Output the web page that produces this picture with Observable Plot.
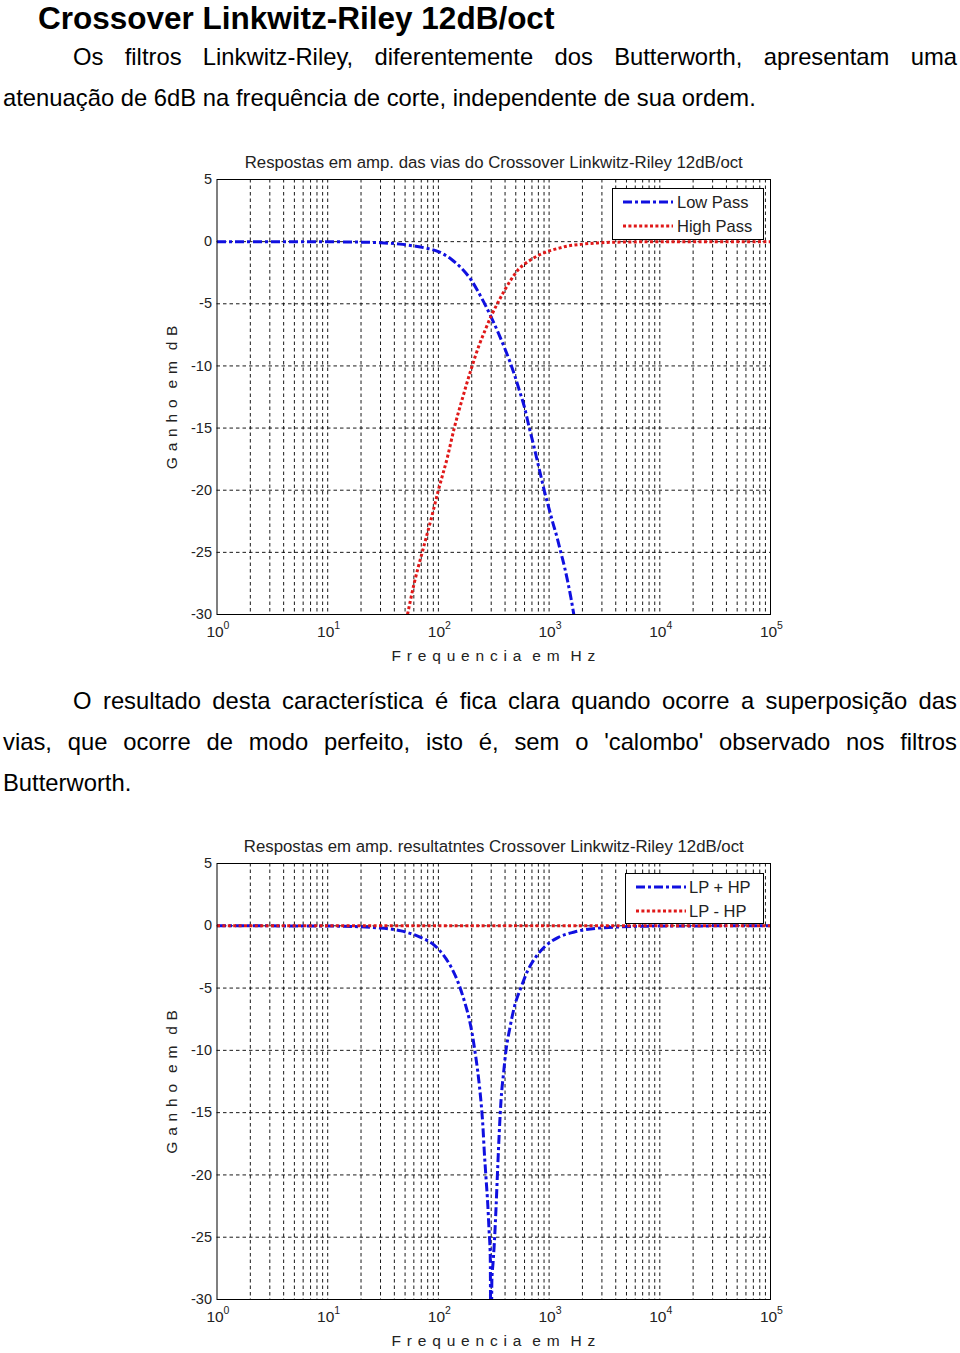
<!DOCTYPE html>
<html><head><meta charset="utf-8">
<script src="https://cdn.jsdelivr.net/npm/d3@7"></script>
<script src="https://cdn.jsdelivr.net/npm/@observablehq/plot@0.6"></script>
<style>
body{margin:0;width:960px;height:1353px;position:relative;background:#fff;font-family:"Liberation Sans",Arial,sans-serif;color:#000;overflow:hidden}
h1{position:absolute;left:38px;top:4px;margin:0;font-size:31.5px;line-height:28px;font-weight:bold;white-space:nowrap}
.ln{position:absolute;font-size:23.8px;line-height:28px;white-space:nowrap}
.just{text-align:justify;text-align-last:justify;white-space:normal}
.chart{position:absolute;left:0}
.legend{position:absolute;border:1px solid #000;background:#fff;font-size:16.5px;font-family:"Liberation Sans",Arial,sans-serif;color:#222}
.legend .it{position:absolute;white-space:nowrap}
</style></head><body>
<h1>Crossover Linkwitz-Riley 12dB/oct</h1>
<div class="ln just" style="left:73px;width:884px;top:43px">Os filtros Linkwitz-Riley, diferentemente dos Butterworth, apresentam uma</div>
<div class="ln" style="left:3px;top:84px">atenuação de 6dB na frequência de corte, independente de sua ordem.</div>
<div class="chart" id="c1" style="top:145px"></div>
<div class="ln just" style="left:73px;width:884px;top:687px">O resultado desta característica é fica clara quando ocorre a superposição das</div>
<div class="ln just" style="left:3px;width:954px;top:728px">vias, que ocorre de modo perfeito, isto é, sem o 'calombo' observado nos filtros</div>
<div class="ln" style="left:3px;top:769px">Butterworth.</div>
<div class="chart" id="c2" style="top:830px"></div>
<script>
// ---- data ----
const xTicks = [1, 10, 100, 1000, 10000, 100000];
const yTicks = [5, 0, -5, -10, -15, -20, -25, -30];
const decades = [1, 10, 100, 1000, 10000];
const minorMultipliers = [1, 2, 3, 4, 5, 6, 7, 8, 9];

// Chart 1: Low Pass
const lpFreq = [1, 5, 10, 20, 30, 45, 60, 80, 100, 130, 160, 200, 226, 260, 299, 350, 394, 440, 486, 540, 598, 663, 730, 790, 850, 908, 1000, 1080, 1180, 1285, 1380, 1477, 1570, 1672];
const lpGain = [0, 0, -0.01, -0.04, -0.09, -0.2, -0.35, -0.55, -0.8, -1.4, -2.1, -3.15, -3.95, -4.95, -6.05, -7.4, -8.5, -9.6, -10.7, -12.0, -13.3, -15.0, -16.5, -17.8, -19.0, -20.1, -21.5, -22.6, -23.8, -25.1, -26.2, -27.4, -28.6, -30];
// Chart 1: High Pass
const hpFreq = [52.6, 60.4, 71.9, 85.5, 100, 121, 139, 165, 197, 234, 265, 299, 345, 394, 450, 521, 600, 700, 847, 1000, 1200, 1477, 2000, 2754, 5000, 10000, 100000];
const hpGain = [-30, -27.5, -24.9, -22.4, -20, -17.3, -15.0, -12.6, -10.3, -8.3, -7.1, -6.0, -4.9, -3.95, -3.1, -2.3, -1.8, -1.4, -1.0, -0.75, -0.55, -0.35, -0.2, -0.1, -0.03, -0.01, 0];
// Chart 2: LP + HP
const sumFreq = [1, 10, 30, 46, 70, 91.6, 110, 130, 150, 171, 190, 204, 215, 226, 235, 243, 252, 260, 270, 279, 287, 294, 299, 304, 312, 320, 331, 343, 355, 368, 388, 408, 440, 486, 560, 641, 760, 907, 1200, 1693, 2953, 10000, 100000];
const sumGain = [0, -0.02, -0.18, -0.41, -0.95, -1.55, -2.3, -3.3, -4.5, -6.0, -7.5, -8.9, -10.2, -11.6, -12.9, -14.2, -16.0, -18.2, -20.4, -22.3, -24.5, -26.5, -40, -28.5, -27, -25.5, -22.8, -19.5, -16.5, -14.0, -11.8, -10.0, -8.3, -6.5, -4.9, -3.6, -2.5, -1.7, -0.95, -0.5, -0.17, -0.02, 0];
// Chart 2: LP - HP
const difFreq = [1, 10, 100, 1000, 10000, 100000];
const difGain = [0, 0, 0, 0, 0, 0];

const BLUE = "#1010e0", RED = "#e01818";
const DASHDOT = "9,3,3,3", DOTTED = "3,2.4";
const xGrid = decades.flatMap(d => minorMultipliers.map(m => d * m)).filter(v => v > 1 && v < 100000);
const yGrid = yTicks.filter(v => v < 5 && v > -30);
const FONT = "Liberation Sans, Arial, Helvetica, sans-serif";
const YLABEL = "G a n h o  e m  d B", XLABEL = "F r e q u e n c i a  e m  H z";

function toRows(fs, gs) { return fs.map((f, i) => ({f, g: gs[i]})); }

function chart({height, marginTop, marginBottom, title, series}) {
  const svg = Plot.plot({
    width: 960, height, marginLeft: 216.5, marginRight: 190, marginTop, marginBottom,
    x: {type: "log", domain: [1, 100000]},
    y: {domain: [-30, 5]},
    style: {fontFamily: FONT, fontSize: "14px", color: "#000", background: "transparent", overflow: "visible"},
    marks: [
      Plot.ruleX(xGrid, {stroke: "#000", strokeWidth: 1, strokeDasharray: "3.5,3", strokeOpacity: 0.9}),
      Plot.ruleY(yGrid, {stroke: "#000", strokeWidth: 1, strokeDasharray: "3.5,3", strokeOpacity: 0.9}),
      ...series.map(s => Plot.line(toRows(s.f, s.g), {x: "f", y: "g", stroke: s.color, strokeWidth: 3, strokeDasharray: s.dash, strokeLinecap: "butt", strokeLinejoin: "miter", curve: "monotone-x", clip: true})),
      Plot.frame({stroke: "#000", strokeWidth: 1}),
      Plot.axisY({ticks: yTicks, tickSize: 0, tickPadding: 5, label: null, fontSize: 14.5, fill: "#222", tickFormat: d => String(d)}),
      Plot.axisX({ticks: [], label: null}),
      Plot.text(xTicks, {x: d => d, frameAnchor: "bottom", lineAnchor: "middle", dy: 18, dx: -2, text: () => "10", fontSize: 15.5, fill: "#222"}),
      Plot.text(xTicks, {x: d => d, frameAnchor: "bottom", lineAnchor: "middle", dy: 11, dx: 9.5, text: d => String(Math.round(Math.log10(d))), fontSize: 10.5, fill: "#222"}),
      Plot.text([title], {frameAnchor: "top", lineAnchor: "middle", dy: -17, fontSize: 16.8, fill: "#222"}),
      Plot.text([YLABEL], {frameAnchor: "left", textAnchor: "middle", lineAnchor: "middle", dx: -44.5, rotate: -90, fontSize: 15.5, fill: "#222"}),
      Plot.text([XLABEL], {frameAnchor: "bottom", lineAnchor: "middle", dy: 42, fontSize: 15.5, fill: "#222"})
    ]
  });
  d3.select(svg).selectAll("text").filter(function() { return this.textContent === YLABEL || this.textContent === XLABEL; })
    .attr("letter-spacing", "0.75px").style("white-space", "pre");
  return svg;
}

function legend(container, {left, top, width, height, items}) {
  const div = document.createElement("div");
  div.className = "legend";
  Object.assign(div.style, {left: left + "px", top: top + "px", width: width + "px", height: height + "px"});
  items.forEach((it, i) => {
    const y = 13 + i * 24;
    div.insertAdjacentHTML("beforeend",
      `<svg class="it" style="left:9px;top:${y - 3}px" width="52" height="6"><line x1="1" y1="3" x2="51" y2="3" stroke="${it.color}" stroke-width="3" stroke-dasharray="${it.dash}"/></svg>` +
      `<div class="it" style="left:${it.tx}px;top:${y - 10}px;line-height:20px">${it.label}</div>`);
  });
  container.appendChild(div);
}

const c1 = document.getElementById("c1");
c1.appendChild(chart({
  height: 525, marginTop: 34, marginBottom: 56,
  title: "Respostas em amp. das vias do Crossover Linkwitz-Riley 12dB/oct",
  series: [
    {f: lpFreq, g: lpGain, color: BLUE, dash: DASHDOT},
    {f: hpFreq, g: hpGain, color: RED, dash: DOTTED}
  ]
}));
legend(c1, {left: 612, top: 43, width: 150, height: 50, items: [
  {label: "Low Pass", color: BLUE, dash: DASHDOT, tx: 64},
  {label: "High Pass", color: RED, dash: DOTTED, tx: 64}
]});

const c2 = document.getElementById("c2");
c2.appendChild(chart({
  height: 523, marginTop: 33, marginBottom: 54,
  title: "Respostas em amp. resultatntes Crossover Linkwitz-Riley 12dB/oct",
  series: [
    {f: sumFreq, g: sumGain, color: BLUE, dash: DASHDOT},
    {f: difFreq, g: difGain, color: RED, dash: DOTTED}
  ]
}));
legend(c2, {left: 625, top: 43, width: 137, height: 49, items: [
  {label: "LP + HP", color: BLUE, dash: DASHDOT, tx: 63},
  {label: "LP - HP", color: RED, dash: DOTTED, tx: 63}
]});
</script>
</body></html>
